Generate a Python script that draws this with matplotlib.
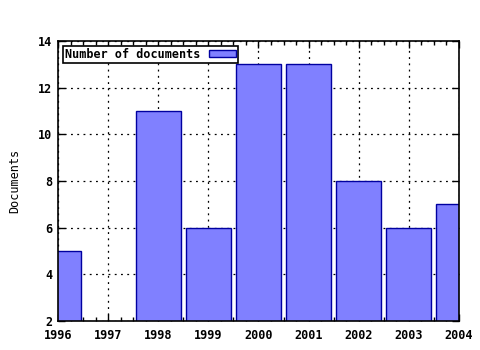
import matplotlib
matplotlib.use("Agg")
import matplotlib.pyplot as plt
from matplotlib.ticker import MultipleLocator

years = [1996, 1997, 1998, 1999, 2000, 2001, 2002, 2003, 2004]
documents = [5, 0, 11, 6, 13, 13, 8, 6, 7]
year_labels = [str(y) for y in years]

plt.rcParams['font.family'] = ['DejaVu Sans Mono']
plt.rcParams['font.weight'] = 'bold'
plt.rcParams['font.size'] = 8.5

fig = plt.figure(figsize=(4.8, 3.5), dpi=100)
ax = fig.add_axes([0.121, 0.083, 0.835, 0.8])

ax.bar(years, documents, width=0.9, color='#8080ff', edgecolor='#0000a0',
       linewidth=1, label='Number of documents', zorder=3)

ax.set_xlim(1996, 2004)
ax.set_ylim(2, 14)
ax.set_xticks(years)
ax.set_xticklabels(year_labels)
ax.xaxis.set_minor_locator(MultipleLocator(0.25))
ax.yaxis.set_major_locator(MultipleLocator(2))
ax.tick_params(which='both', direction='in', top=True, right=True, color='black')
ax.tick_params(which='major', length=5, width=1)
ax.tick_params(which='minor', length=3, width=1)
ax.tick_params(axis='x', pad=6)
ax.tick_params(axis='y', pad=4)

ax.grid(True, which='major', linestyle=(0, (1.5, 3.5)), color='black', linewidth=0.9, zorder=1)
for s in ax.spines.values():
    s.set_linewidth(1.2)
    s.set_zorder(4)

ax.set_ylabel('Documents', labelpad=12)

leg = ax.legend(loc='upper left', markerfirst=False, fancybox=False,
                framealpha=1, edgecolor='black', borderpad=0.15,
                handlelength=2.3, handleheight=0.55, handletextpad=0.7,
                borderaxespad=0.45)
leg.get_frame().set_linewidth(1.2)
leg.set_zorder(5)

fig.savefig('out.png', dpi=100)
